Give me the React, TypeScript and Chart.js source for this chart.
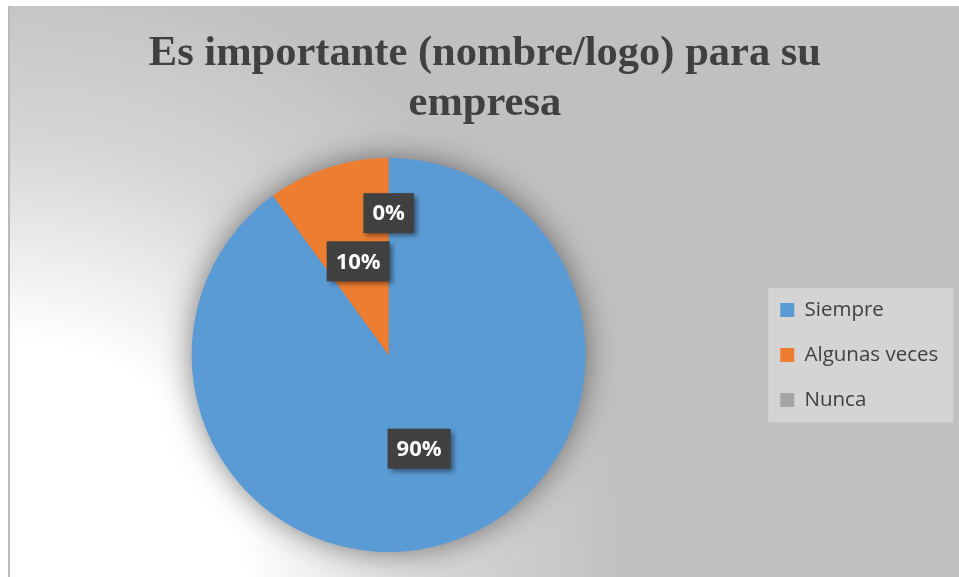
import React, { useEffect, useRef } from "react";
import { Chart, registerables } from "chart.js";

Chart.register(...registerables);

// ---- data ----
const categories = ["Siempre", "Algunas veces", "Nunca"];
const values = [90, 10, 0];
const valueLabels = ["90%", "10%", "0%"];
const sliceColors = ["#5B9BD5", "#ED7D31", "#A5A5A5"];
const titleLines = ["Es importante (nombre/logo) para su", "empresa"];

// ---- style ----
const labelRadiusFractions = [0.5, 0.5, 0.72];
const TEXT_COLOR = "#404040";

const backgroundPlugin = {
  id: "bgDecor",
  beforeDraw(chart: any) {
    const { ctx, width, height } = chart;
    ctx.save();
    ctx.fillStyle = "#c0c0c0";
    ctx.fillRect(0, 0, width, height);
    const g = ctx.createRadialGradient(0, height, 0, 0, height, 620);
    g.addColorStop(0, "#ffffff");
    g.addColorStop(0.38, "#ffffff");
    g.addColorStop(0.7, "#d6d6d6");
    g.addColorStop(1, "#c0c0c0");
    ctx.fillStyle = g;
    ctx.fillRect(0, 0, width, height);
    // left frame line
    ctx.fillStyle = "#bababa";
    ctx.fillRect(0, 0, 2, height);

    // legend background
    const lg = chart.legend;
    if (lg && lg.legendHitBoxes && lg.legendHitBoxes.length) {
      const hb = lg.legendHitBoxes;
      const x0 = hb[0].left - 12;
      const y0 = hb[0].top - 12;
      const last = hb[hb.length - 1];
      ctx.fillStyle = "#d4d4d4";
      ctx.fillRect(x0, y0, 185, last.top + last.height + 12 - y0);
    }

    // pie shadow
    const meta = chart.getDatasetMeta(0);
    const arc = meta && meta.data && meta.data[0];
    if (arc) {
      const p = arc.getProps(["x", "y", "outerRadius"], true);
      ctx.shadowColor = "rgba(0,0,0,0.5)";
      ctx.shadowBlur = 32;
      ctx.shadowOffsetX = 0;
      ctx.shadowOffsetY = 0;
      ctx.beginPath();
      ctx.arc(p.x, p.y, p.outerRadius - 1, 0, Math.PI * 2);
      ctx.fillStyle = "#808080";
      ctx.fill();
    }
    ctx.restore();
  },
};

const valueLabelPlugin = {
  id: "valueLabels",
  afterDatasetsDraw(chart: any) {
    const { ctx } = chart;
    const meta = chart.getDatasetMeta(0);
    meta.data.forEach((arc: any, i: number) => {
      const p = arc.getProps(["x", "y", "startAngle", "endAngle", "outerRadius"], true);
      const mid = (p.startAngle + p.endAngle) / 2;
      const r = p.outerRadius * labelRadiusFractions[i];
      const cx = p.x + Math.cos(mid) * r;
      const cy = p.y + Math.sin(mid) * r;
      const text = valueLabels[i];
      ctx.save();
      ctx.font = 'bold 22px "Open Sans", sans-serif';
      const tw = ctx.measureText(text).width;
      const w = tw + 18;
      const h = 40;
      ctx.shadowColor = "rgba(0,0,0,0.45)";
      ctx.shadowBlur = 5;
      ctx.shadowOffsetX = 3;
      ctx.shadowOffsetY = 3;
      ctx.fillStyle = "#404040";
      ctx.fillRect(cx - w / 2, cy - h / 2, w, h);
      ctx.shadowColor = "transparent";
      ctx.fillStyle = "#ffffff";
      ctx.textAlign = "center";
      ctx.textBaseline = "middle";
      ctx.fillText(text, cx, cy + 1);
      ctx.restore();
    });
  },
};

export default function App() {
  const canvasRef = useRef<HTMLCanvasElement | null>(null);

  useEffect(() => {
    let chart: Chart | null = null;
    let cancelled = false;
    const build = () => {
      if (cancelled || !canvasRef.current) return;
      chart = new Chart(canvasRef.current, {
        type: "pie",
        data: {
          labels: categories,
          datasets: [
            {
              data: values,
              backgroundColor: sliceColors,
              borderWidth: 0,
            },
          ],
        },
        options: {
          animation: false,
          responsive: true,
          maintainAspectRatio: false,
          layout: { padding: { left: 13.5, right: 10.75, top: 0, bottom: 25 } },
          plugins: {
            tooltip: { enabled: false },
            title: {
              display: true,
              text: titleLines,
              color: TEXT_COLOR,
              font: {
                family: '"Liberation Serif", "Times New Roman", serif',
                weight: "bold",
                size: 42.5,
                lineHeight: "50px",
              },
              padding: { top: 23.5, bottom: 28.5 },
            },
            legend: {
              display: true,
              position: "right",
              align: "center",
              fullSize: false,
              labels: {
                boxWidth: 14,
                boxHeight: 14,
                padding: 24.5,
                color: TEXT_COLOR,
                font: { family: '"Open Sans", sans-serif', size: 20.5 },
              },
            },
          },
        },
        plugins: [backgroundPlugin, valueLabelPlugin],
      } as any);
    };
    const fontsReady = (document as any).fonts
      ? Promise.all([
          (document as any).fonts.load('bold 22px "Open Sans"'),
          (document as any).fonts.load('20px "Open Sans"'),
          (document as any).fonts.load('bold 42px "Liberation Serif"'),
        ]).catch(() => null)
      : Promise.resolve(null);
    fontsReady.then(build);
    return () => {
      cancelled = true;
      if (chart) chart.destroy();
    };
  }, []);

  return (
    <div style={{ position: "absolute", left: 8, top: 6, width: 951, height: 571 }}>
      <canvas ref={canvasRef} />
    </div>
  );
}
